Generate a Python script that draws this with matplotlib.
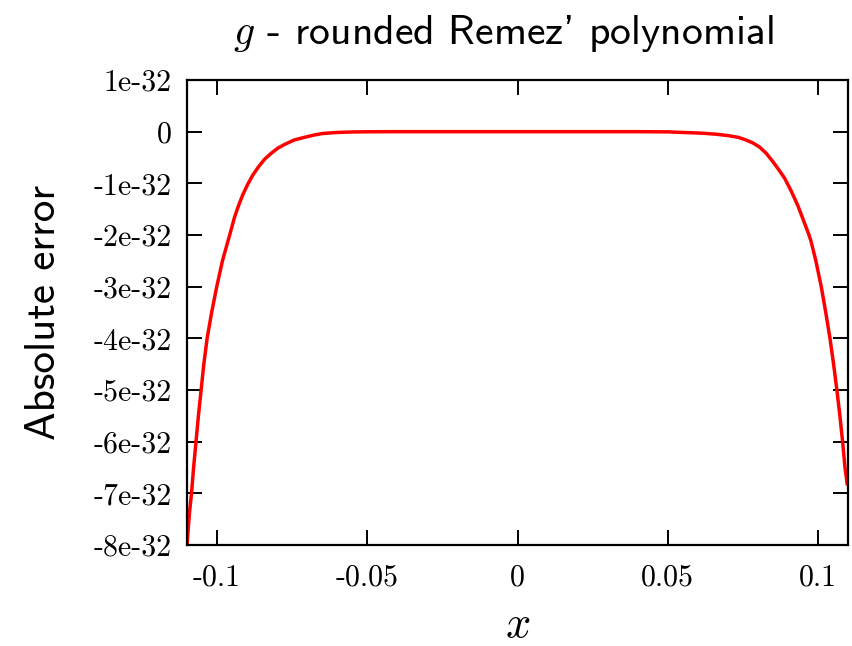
import matplotlib
matplotlib.use("Agg")
import matplotlib.pyplot as plt
from matplotlib.ticker import FixedLocator, FixedFormatter

# Data (y in units of 1e-32)
x_vals = [-0.1100, -0.1092, -0.1085, -0.1078, -0.1070, -0.1062, -0.1053, -0.1044,
          -0.1033, -0.1018, -0.1001, -0.0982, -0.0958, -0.0942, -0.0929, -0.0915,
          -0.0898, -0.0881, -0.0862, -0.0842, -0.0820, -0.0798, -0.0776, -0.0743,
          -0.0709, -0.0676, -0.0648, -0.0600, -0.0550, -0.0500, -0.0400, 0.0,
          0.0400, 0.0500, 0.0573, 0.0617, 0.0662, 0.0700, 0.0735, 0.0760,
          0.0784, 0.0806, 0.0828, 0.0850, 0.0870, 0.0889, 0.0911, 0.0933,
          0.0952, 0.0967, 0.0976, 0.0993, 0.1011, 0.1026, 0.1040, 0.1052,
          0.1063, 0.1073, 0.1082, 0.1090, 0.1098]
err_vals = [-8.00, -7.39, -7.00, -6.50, -6.00, -5.50, -5.00, -4.50,
            -4.00, -3.50, -3.00, -2.50, -2.00, -1.66, -1.44, -1.23,
            -1.02, -0.84, -0.68, -0.535, -0.42, -0.32, -0.25, -0.16,
            -0.11, -0.064, -0.035, -0.015, -0.006, -0.002, 0.0, 0.0,
            0.0, -0.004, -0.02, -0.03, -0.05, -0.075, -0.11, -0.16,
            -0.22, -0.30, -0.42, -0.58, -0.74, -0.90, -1.15, -1.43,
            -1.72, -1.95, -2.10, -2.50, -3.00, -3.50, -4.00, -4.50,
            -5.00, -5.50, -6.00, -6.50, -6.85]
x_ticks = [-0.1, -0.05, 0, 0.05, 0.1]
x_tick_labels = ["-0.1", "-0.05", "0", "0.05", "0.1"]
y_ticks = [1, 0, -1, -2, -3, -4, -5, -6, -7, -8]
y_tick_labels = ["1e-32", "0", "-1e-32", "-2e-32", "-3e-32", "-4e-32",
                 "-5e-32", "-6e-32", "-7e-32", "-8e-32"]
title = "$g$ - rounded Remez' polynomial"
xlabel = "$x$"
ylabel = "Absolute error"

plt.rcParams['mathtext.fontset'] = 'cm'

fig = plt.figure(figsize=(8.52, 6.46), dpi=100)
ax = fig.add_axes([187/852, 1-545/646, (848-187)/852, (545-80)/646])

ax.plot(x_vals, err_vals, color='#ff0000', lw=2.5, solid_joinstyle='round',
        solid_capstyle='butt')

ax.set_xlim(-0.11, 0.11)
ax.set_ylim(-8, 1)

ax.xaxis.set_major_locator(FixedLocator(x_ticks))
ax.xaxis.set_major_formatter(FixedFormatter(x_tick_labels))
ax.yaxis.set_major_locator(FixedLocator(y_ticks))
ax.yaxis.set_major_formatter(FixedFormatter(y_tick_labels))

ax.tick_params(direction='in', length=11, width=1.4, top=True, right=True,
               labelsize=21.5)
ax.tick_params(axis='y', pad=11)
ax.tick_params(axis='x', pad=14)
for lab in ax.get_xticklabels() + ax.get_yticklabels():
    lab.set_fontfamily('cmr10')

for s in ax.spines.values():
    s.set_linewidth(1.6)

ax.set_title(title, fontfamily='cmss10', fontsize=30, pad=26, x=0.478)
ax.set_xlabel(xlabel, fontsize=32, labelpad=8)
ax.set_ylabel(ylabel, fontfamily='cmss10', fontsize=31, labelpad=22)

fig.savefig("out.png", dpi=100)
